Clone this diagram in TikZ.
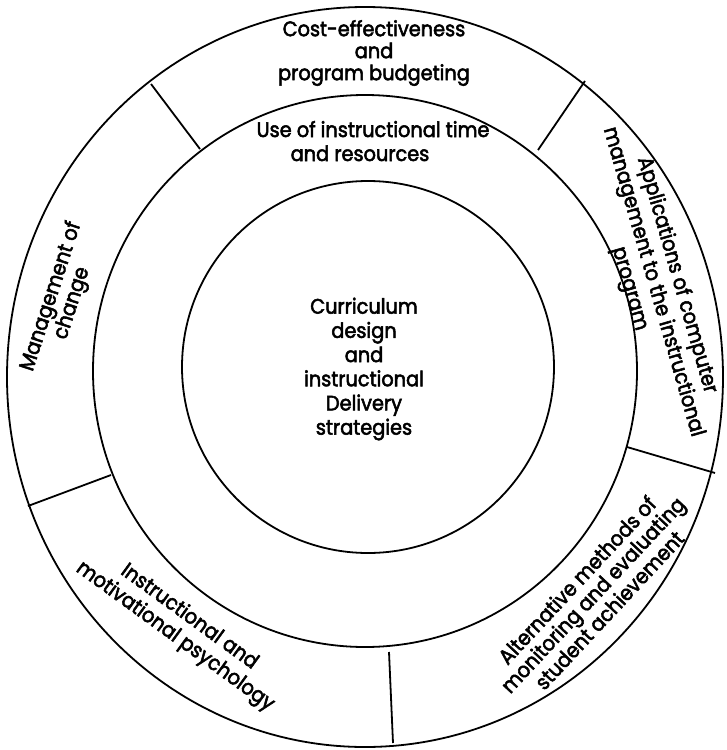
\documentclass[tikz,border=0pt]{standalone}
\usepackage{fontspec}
\setmainfont{Poppins}[FakeStretch=0.92,FakeBold=2.5]
\begin{document}
\begin{tikzpicture}[x=1pt,y=-1pt,
  ring/.style={line width=1.8pt},
  divider/.style={line width=1.8pt},
  lbl/.style={font=\fontsize{21}{22}\selectfont, align=center, inner sep=0pt}]
\useasboundingbox (0,0) rectangle (727,750);
% rings
\draw[ring] (365,377) ellipse [x radius=358pt, y radius=370pt];
\draw[ring] (365,371) ellipse [x radius=272pt, y radius=276pt];
\draw[ring] (368,367) ellipse [x radius=186pt, y radius=186pt];
% dividers
\coordinate (tlo) at (151,84);  \coordinate (tlm) at (200,149);
\coordinate (tro) at (585,81);  \coordinate (trm) at (538,150);
\coordinate (llo) at (28,506);  \coordinate (llm) at (111,475);
\coordinate (rlo) at (715,473); \coordinate (rlm) at (627,447);
\coordinate (bo)  at (393,743); \coordinate (bm)  at (389,652);
\draw[divider] (tlm) -- (tlo);
\draw[divider] (trm) -- (tro);
\draw[divider] (llm) -- (llo);
\draw[divider] (rlm) -- (rlo);
\draw[divider] (bm) -- (bo);
% labels
\node[lbl] (cost) at (374,53) {Cost-effectiveness\\and\\program budgeting};
\node[lbl, anchor=base] (use1) at (373,137) {Use of instructional time};
\node[lbl, anchor=base] (use2) at (360,161) {and resources};
\node[lbl, font=\fontsize{21}{24.2}\selectfont] (core) at (364,369)
  {Curriculum\\design\\and\\instructional\\Delivery\\strategies};
\node[lbl, rotate=72] (mgmt) at (62,300) {Management of\\change};
\node[lbl, rotate=-74, font=\fontsize{21}{24.5}\selectfont] (comp) at (653,282)
  {Applications of computer\\management to the instructional\\program};
\node[lbl, rotate=47, font=\fontsize{21}{21.5}\selectfont] (alt) at (593,595)
  {Alternative methods of\\monitoring and evaluating\\student achievement};
\node[lbl, rotate=-36, font=\fontsize{21}{24}\selectfont] (psy) at (182,627)
  {Instructional and\\motivational psychology};
\end{tikzpicture}
\end{document}
